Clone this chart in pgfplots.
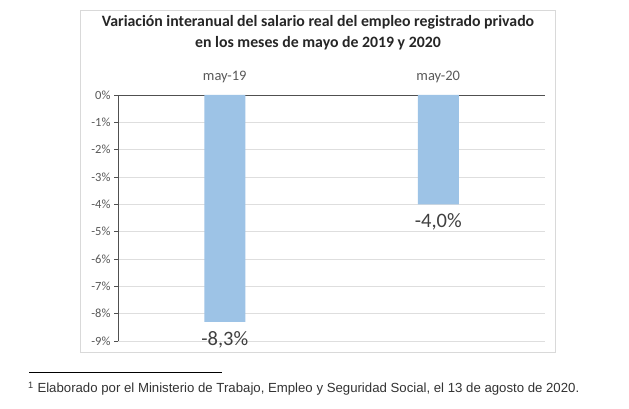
\documentclass[border=0pt]{standalone}
\usepackage{pgfplots}
\pgfplotsset{compat=1.18}
\usepackage{fontspec}
\setmainfont{Carlito}
\newfontfamily\footfont{Liberation Sans}
\definecolor{barblue}{RGB}{157,195,230}
\definecolor{gridgray}{RGB}{222,222,222}
\definecolor{axgray}{RGB}{80,80,80}
\definecolor{lblgray}{RGB}{89,89,89}
\definecolor{boxgray}{RGB}{217,217,217}
\definecolor{valgray}{RGB}{64,64,64}
\begin{document}
\begin{tikzpicture}[x=1pt,y=1pt]
\path[fill=white] (0,0) rectangle (629,409);
\draw[boxgray, line width=0.8pt] (80,57) rectangle (555,399);
\node[font=\fontsize{15.8}{21}\selectfont\bfseries, align=center, text=black!85] at (318,376.5) {Variación interanual del salario real del empleo registrado privado\\en los meses de mayo de 2019 y 2020};
\begin{axis}[
  at={(118pt,68pt)}, anchor=south west,
  width=427pt, height=246pt, scale only axis,
  xmin=-0.5, xmax=1.5, ymin=-9, ymax=0,
  axis x line*=top, axis y line*=left,
  axis line style={axgray, line width=0.8pt},
  xtick={0,1}, xticklabels={may-19,may-20},
  extra x ticks={-0.5,0.5,1.5}, extra x tick labels={},
  extra x tick style={major tick length=4pt, tick style={axgray, line width=0.8pt}, grid=none},
  x tick style={draw=none},
  xticklabel style={font=\fontsize{14.5}{16}\selectfont, text=lblgray, yshift=5pt},
  ytick={-9,-8,...,0},
  yticklabels={-9\%,-8\%,-7\%,-6\%,-5\%,-4\%,-3\%,-2\%,-1\%,0\%},
  yticklabel style={font=\fontsize{12.5}{15}\selectfont, text=lblgray},
  y tick style={axgray, line width=0.8pt},
  tick align=outside, major tick length=4pt,
  ymajorgrids, grid style={gridgray, line width=0.8pt},
  /pgf/number format/assume math mode=true,
  clip=false,
]
\addplot[ybar, bar width=41pt, fill=barblue, draw=none,
  nodes near coords={\pgfmathprintnumber[use comma, fixed, fixed zerofill, precision=1]{\pgfplotspointmeta}\%},
  nodes near coords style={font=\fontsize{20.5}{22}\selectfont, text=valgray, inner sep=2pt, yshift=-7pt},
] coordinates {(0,-8.3) (1,-4.0)};
\end{axis}
\draw[black, line width=0.8pt] (29,37) -- (222,37);
\node[anchor=base west, font=\footfont\fontsize{13.2}{15}\selectfont, text=black!80, inner sep=0] at (28,16) {\textsuperscript{1} Elaborado por el Ministerio de Trabajo, Empleo y Seguridad Social, el 13 de agosto de 2020.};
\end{tikzpicture}
\end{document}
